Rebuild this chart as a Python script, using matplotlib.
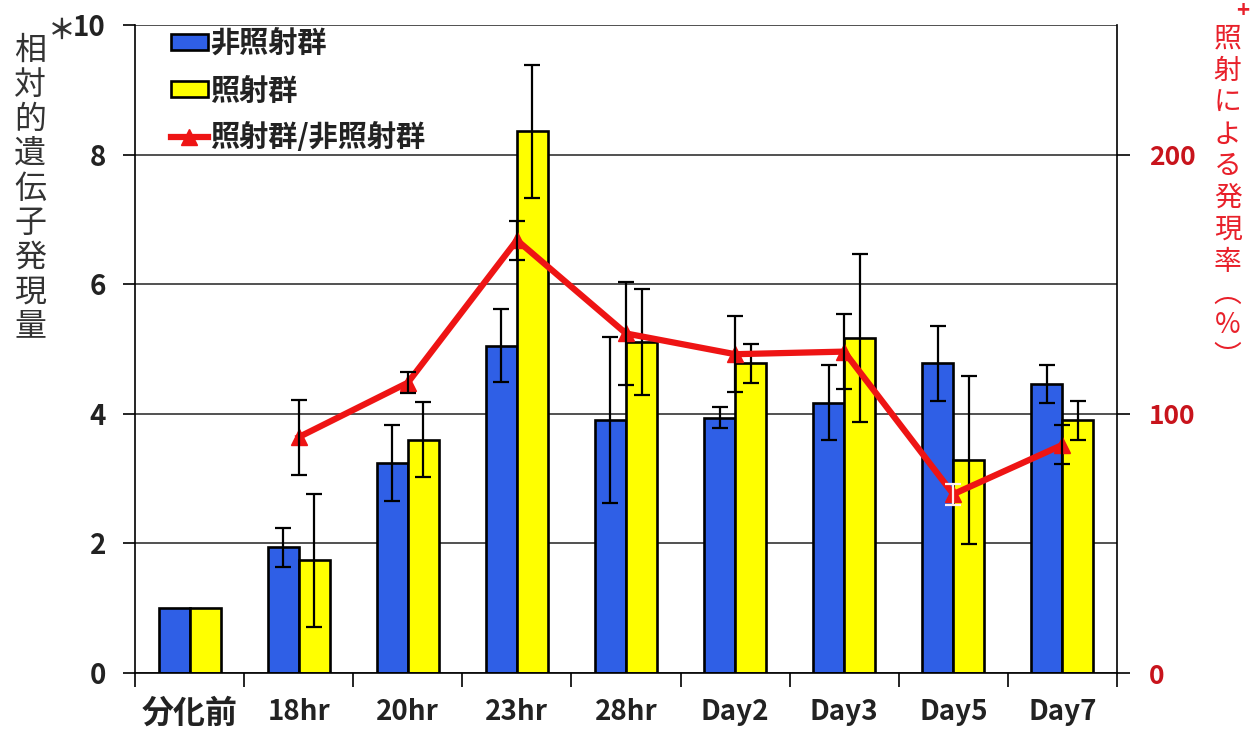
import numpy as np
import matplotlib.pyplot as plt
from matplotlib.lines import Line2D
from matplotlib.patches import Patch

plt.rcParams['font.family'] = ['Noto Sans CJK JP', 'DejaVu Sans']

# time points
categories = ['分化前', '18hr', '20hr', '23hr', '28hr', 'Day2', 'Day3', 'Day5', 'Day7']

# relative expression, non-irradiated / irradiated (mean and error)
ctrl = [1.0, 1.94, 3.24, 5.05, 3.90, 3.94, 4.17, 4.78, 4.46]
ctrl_err = [0.0, 0.30, 0.58, 0.56, 1.28, 0.16, 0.58, 0.58, 0.30]
irr = [1.0, 1.74, 3.60, 8.36, 5.11, 4.78, 5.17, 3.29, 3.90]
irr_err = [0.0, 1.03, 0.58, 1.03, 0.82, 0.30, 1.30, 1.30, 0.30]

# ratio irradiated / non-irradiated (%), no value before differentiation
ratio = [np.nan, 91, 112, 167, 131, 123, 124, 69, 88]
ratio_err = [0, 14.5, 4, 7.5, 20, 14.7, 14.5, 4, 7.5]

left_ticks = [0, 2, 4, 6, 8, 10]
right_ticks = [0, 100, 200]

blue = '#2f5fe6'
yellow = '#ffff00'
red = '#ee1414'

fig = plt.figure(figsize=(12.54, 7.31), dpi=100)
ax = fig.add_axes([0.1077, 0.0793, 0.783, 0.8865])

x = np.arange(len(categories))
w = 0.285
ax.bar(x - w / 2, ctrl, w, color=blue, edgecolor='black', linewidth=1.9, zorder=2)
ax.bar(x + w / 2, irr, w, color=yellow, edgecolor='black', linewidth=1.9, zorder=2)
eb = dict(fmt='none', ecolor='black', elinewidth=1.6, capsize=5.5, capthick=1.6, zorder=3)
ax.errorbar(x[1:] - w / 2, ctrl[1:], yerr=ctrl_err[1:], **eb)
ax.errorbar(x[1:] + w / 2, irr[1:], yerr=irr_err[1:], **eb)

ax.set_xlim(-0.5, len(categories) - 0.5)
ax.set_ylim(0, 10)
ax.set_yticks(left_ticks)
ax.set_yticklabels([str(t) for t in left_ticks], fontsize=20, fontweight='bold', color='#222222')
ax.yaxis.grid(True, color='#333333', linewidth=1.2)
ax.set_axisbelow(True)
ax.tick_params(axis='y', length=9, width=1.2, pad=12)

# ticks between groups, labels at group centres
ax.set_xticks(np.arange(len(categories) + 1) - 0.5)
ax.set_xticklabels([])
ax.set_xticks(x, minor=True)
ax.set_xticklabels(categories, minor=True, fontsize=20, fontweight='bold', color='#222222')
ax.get_xticklabels(minor=True)[0].set_fontsize(23)
ax.tick_params(axis='x', which='major', length=10, width=1.2)
ax.tick_params(axis='x', which='minor', length=0, pad=18)

for s in ['top', 'right']:
    ax.spines[s].set_visible(False)
for s in ['left', 'bottom']:
    ax.spines[s].set_linewidth(1.2)

ax2 = ax.twinx()
ax2.set_ylim(0, 250)
ax2.set_yticks(right_ticks)
ax2.set_yticklabels([str(t) for t in right_ticks], fontsize=19, fontweight='bold', color='#c8141c')
ax2.tick_params(axis='y', length=9, width=1.2, pad=14)
ax2.spines['top'].set_visible(False)
ax2.spines['left'].set_visible(False)
ax2.spines['bottom'].set_visible(False)
ax2.spines['right'].set_linewidth(1.2)

ax2.plot(x, ratio, color=red, linewidth=4.5, marker='^', markersize=11, zorder=4)
ratio_a = np.array(ratio)
ratio_e = np.array(ratio_err)
white_mask = np.array([c == 'Day5' for c in categories])
black_mask = ~white_mask & ~np.isnan(ratio_a)
ax2.errorbar(x[black_mask], ratio_a[black_mask], yerr=ratio_e[black_mask], fmt='none', ecolor='black',
             elinewidth=1.6, capsize=5.5, capthick=1.6, zorder=5)
ax2.errorbar(x[white_mask], ratio_a[white_mask], yerr=ratio_e[white_mask], fmt='none', ecolor='#fff0f0',
             elinewidth=1.6, capsize=5.5, capthick=1.6, zorder=5)

handles = [
    Patch(facecolor=blue, edgecolor='black', linewidth=1.9),
    Patch(facecolor=yellow, edgecolor='black', linewidth=1.9),
    Line2D([0], [0], color=red, linewidth=4.5, marker='^', markersize=11),
]
leg = ax2.legend(handles, ['非照射群', '照射群', '照射群/非照射群'], loc='upper left',
                 bbox_to_anchor=(0.01, 1.035), frameon=False, handlelength=1.25, handleheight=0.45,
                 handletextpad=0.1, labelspacing=0.58,
                 prop={'family': ['Noto Sans CJK JP', 'DejaVu Sans'], 'weight': 'bold', 'size': 21})
for t in leg.get_texts():
    t.set_color('#222222')

# axis titles, stacked vertically
fig.text(0.024, 0.742, '\n'.join('相対的遺伝子発現量'), ha='center', va='center',
         fontsize=23, color='#333333', linespacing=1.1)
fig.text(0.049, 0.958, '＊', ha='center', va='center', fontsize=20, fontweight='bold', color='#333333')
fig.text(0.979, 0.729, '\n'.join('照射による発現率︵%︶'), ha='center', va='center',
         fontsize=20, color='#e8202a', linespacing=1.08)
fig.text(0.991, 0.986, '+', ha='center', va='center', fontsize=16, fontweight='bold', color='#e8202a')

fig.savefig('out.png', dpi=100)
